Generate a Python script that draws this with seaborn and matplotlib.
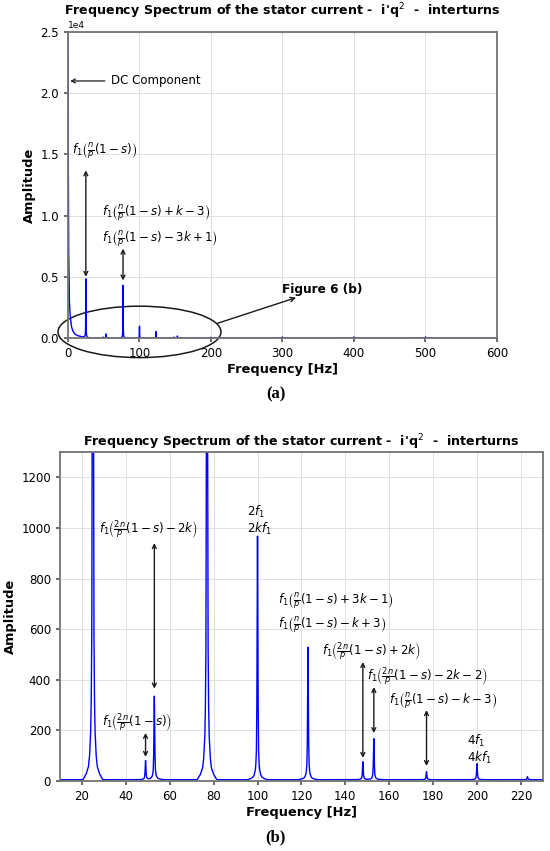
import numpy as np
import pandas as pd
import matplotlib.pyplot as plt
import seaborn as sns
from matplotlib.patches import Ellipse

# ----------------------------
# DATA
# ----------------------------
peak_freq = [25, 49, 53, 77, 100, 123, 148, 153, 177, 200, 223, 300, 400, 500]
peak_amp = [4780, 75, 330, 4300, 962, 523, 71, 162, 32, 63, 12, 90, 90, 90]

# shape of one spectral line: offset from centre [Hz] -> share of peak height
skirt_off = [0, 0.15, 0.3, 0.5, 0.75, 1.0, 1.5, 2.0, 3.0, 4.5]
skirt_rel = [1, 0.6, 0.3, 0.12, 0.065, 0.04, 0.02, 0.011, 0.005, 0.0]

# DC component and its tail (only seen in the full-range plot)
dc_freq = [0, 0.5, 1, 2, 3, 5, 7, 10, 14, 20, 30]
dc_amp = [25500, 14000, 7000, 3000, 1900, 900, 550, 300, 180, 100, 0]

noise_floor = 5

x_ticks_a = [0, 100, 200, 300, 400, 500, 600]
x_ticks_b = [20, 40, 60, 80, 100, 120, 140, 160, 180, 200, 220]
y_ticks_b = [0, 200, 400, 600, 800, 1000, 1200]

title = "Frequency Spectrum of the stator current -  i'q$^2$  -  interturns"


# ----------------------------
# BUILD SPECTRUM LINE
# ----------------------------
def spectrum(with_dc):
    pts = set(np.round(np.arange(0, 601, 5.0), 3))
    for f in peak_freq:
        for o in skirt_off:
            pts.add(round(f + o, 3))
            pts.add(round(f - o, 3))
    if with_dc:
        pts.update(dc_freq)
    f = np.array(sorted(p for p in pts if 0 <= p <= 600))
    a = np.full(f.shape, float(noise_floor))
    for pf, pa in zip(peak_freq, peak_amp):
        a += pa * np.interp(np.abs(f - pf), skirt_off, skirt_rel, right=0)
    if with_dc:
        a += np.interp(f, dc_freq, dc_amp, right=0)
    return pd.DataFrame({"Frequency": f, "Amplitude": a})


df_a = spectrum(True)
df_b = spectrum(False)
df_b = df_b[(df_b["Frequency"] >= 10) & (df_b["Frequency"] <= 230)]

# ----------------------------
# STYLE
# ----------------------------
sns.set_theme(style="whitegrid", rc={
    "axes.edgecolor": "0.45",
    "axes.linewidth": 1.3,
    "grid.color": "0.88",
    "grid.linewidth": 0.7,
    "xtick.bottom": True,
    "ytick.left": True,
    "xtick.color": "0.35",
    "ytick.color": "0.35",
    "xtick.labelcolor": "black",
    "ytick.labelcolor": "black",
    "xtick.major.size": 3,
    "ytick.major.size": 3,
    "text.color": "black",
    "axes.labelcolor": "black",
})
plt.rcParams["font.family"] = ["DejaVu Sans"]

fig = plt.figure(figsize=(5.5, 8.51), dpi=100)
ax1 = fig.add_axes([0.1236, 0.6028, 0.78, 0.3596])
ax2 = fig.add_axes([0.109, 0.0823, 0.878, 0.3866])

fs = 8.5
tfs = 9.1
lfs = 9.4
arrow = dict(arrowstyle="<->", color="k", lw=1, mutation_scale=7, shrinkA=0, shrinkB=0)

# ----------------------------
# (a) full range
# ----------------------------
sns.lineplot(data=df_a, x="Frequency", y="Amplitude", ax=ax1, color="blue",
             lw=1.0, estimator=None)
ax1.set_xlim(0, 600)
ax1.set_ylim(0, 25000)
ax1.set_xticks(x_ticks_a)
ax1.ticklabel_format(axis="y", style="sci", scilimits=(4, 4))
ax1.yaxis.get_offset_text().set_fontsize(6.5)
ax1.tick_params(labelsize=fs)
ax1.set_title(title, fontsize=tfs, fontweight="bold", pad=4)
ax1.set_xlabel("Frequency [Hz]", fontsize=lfs, fontweight="bold", labelpad=2)
ax1.set_ylabel("Amplitude", fontsize=lfs, fontweight="bold", labelpad=3)

ax1.annotate("DC Component", xy=(3, 21000), xytext=(60, 21000), va="center",
             fontsize=fs, arrowprops=dict(arrowstyle="->", color="k", lw=0.9,
                                          mutation_scale=7, shrinkB=0))
ax1.text(6, 15300, r"$f_1\left(\frac{n}{p}(1-s)\right)$", fontsize=fs, va="center")
ax1.annotate("", xy=(25, 5000), xytext=(25, 13700), arrowprops=arrow)
ax1.text(47, 10200, r"$f_1\left(\frac{n}{p}(1-s)+k-3\right)$", fontsize=fs, va="center")
ax1.text(47, 8100, r"$f_1\left(\frac{n}{p}(1-s)-3k+1\right)$", fontsize=fs, va="center")
ax1.annotate("", xy=(77, 4700), xytext=(77, 7300), arrowprops=arrow)

ax1.add_patch(Ellipse((100, 500), 228, 4200, fill=False, ec="k", lw=1.1, clip_on=False))
ax1.annotate("", xy=(319, 3300), xytext=(209, 1200),
             arrowprops=dict(arrowstyle="->", color="k", lw=1, mutation_scale=8,
                             shrinkA=0, shrinkB=0))
ax1.text(300, 4000, "Figure 6 (b)", fontsize=8.7, fontweight="bold", va="center")

fig.text(0.502, 0.536, "(a)", fontsize=12, fontweight="bold",
         family="Liberation Serif", ha="center", va="center")

# ----------------------------
# (b) zoomed range
# ----------------------------
sns.lineplot(data=df_b, x="Frequency", y="Amplitude", ax=ax2, color="blue",
             lw=1.0, estimator=None)
ax2.set_xlim(10, 230)
ax2.set_ylim(0, 1300)
ax2.set_xticks(x_ticks_b)
ax2.set_yticks(y_ticks_b)
ax2.tick_params(labelsize=fs)
ax2.set_title(title, fontsize=tfs, fontweight="bold", pad=4)
ax2.set_xlabel("Frequency [Hz]", fontsize=lfs, fontweight="bold", labelpad=2)
ax2.set_ylabel("Amplitude", fontsize=lfs, fontweight="bold", labelpad=3)

ax2.text(28, 995, r"$f_1\left(\frac{2n}{p}(1-s)-2k\right)$", fontsize=fs, va="center")
ax2.annotate("", xy=(53, 365), xytext=(53, 940), arrowprops=arrow)
ax2.text(95, 1030, "$2f_1$\n$2kf_1$", fontsize=fs, va="center", linespacing=1.1)
ax2.text(109.5, 710, r"$f_1\left(\frac{n}{p}(1-s)+3k-1\right)$", fontsize=fs, va="center")
ax2.text(109.5, 614, r"$f_1\left(\frac{n}{p}(1-s)-k+3\right)$", fontsize=fs, va="center")
ax2.text(129.6, 513, r"$f_1\left(\frac{2n}{p}(1-s)+2k\right)$", fontsize=fs, va="center")
ax2.annotate("", xy=(148, 91), xytext=(148, 470), arrowprops=arrow)
ax2.text(149.7, 415, r"$f_1\left(\frac{2n}{p}(1-s)-2k-2\right)$", fontsize=fs, va="center")
ax2.annotate("", xy=(153, 189), xytext=(153, 371), arrowprops=arrow)
ax2.text(159.8, 316, r"$f_1\left(\frac{n}{p}(1-s)-k-3\right)$", fontsize=fs, va="center")
ax2.annotate("", xy=(177, 59), xytext=(177, 280), arrowprops=arrow)
ax2.text(195.4, 125, "$4f_1$\n$4kf_1$", fontsize=fs, va="center", linespacing=1.1)
ax2.text(29, 233, r"$f_1\left(\frac{2n}{p}(1-s)\right)$", fontsize=fs, va="center")
ax2.annotate("", xy=(49, 95), xytext=(49, 190), arrowprops=arrow)

fig.text(0.5, 0.0165, "(b)", fontsize=12, fontweight="bold",
         family="Liberation Serif", ha="center", va="center")

plt.savefig("out.png", dpi=100)
